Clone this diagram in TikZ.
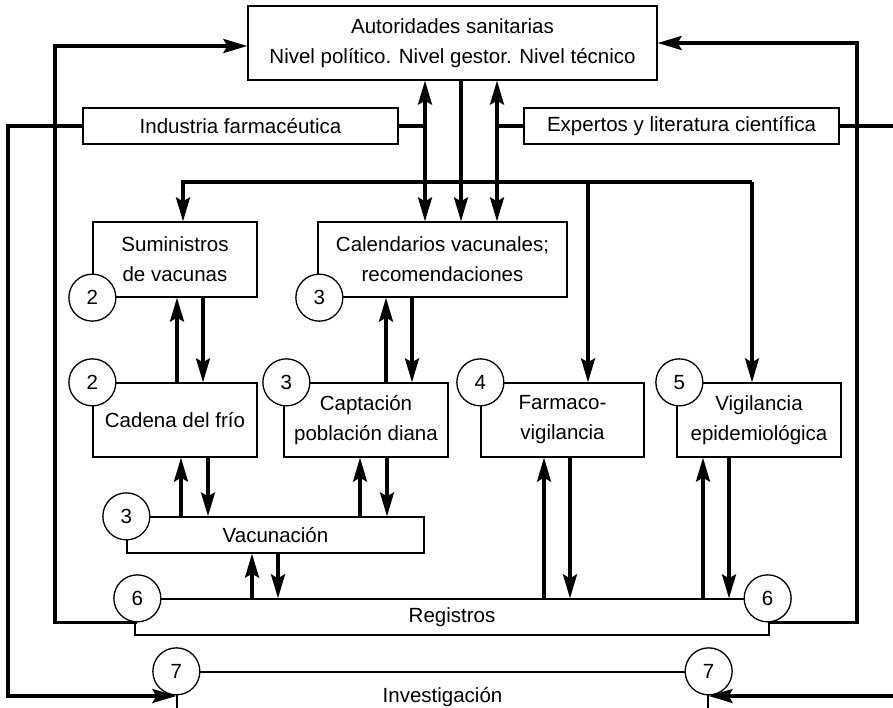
\documentclass[tikz,border=0pt]{standalone}
\usepackage{fontspec}
\setmainfont{Liberation Sans}
\usetikzlibrary{arrows.meta}
\begin{document}
\begin{tikzpicture}[x=1pt,y=-1pt,
  font=\fontsize{20.5}{30}\selectfont,
  box/.style={draw, line width=1.3pt, rectangle, inner sep=0pt, align=center},
  num/.style={draw, circle, fill=white, line width=1.3pt, minimum size=47pt, inner sep=0pt},
  arr/.style={line width=3.2pt, -{Stealth[length=24pt,width=14pt,inset=4pt]}},
  darr/.style={line width=3.2pt, {Stealth[length=24pt,width=14pt,inset=4pt]}-{Stealth[length=24pt,width=14pt,inset=4pt]}},
  ln/.style={line width=3.2pt}]
\useasboundingbox (0,0) rectangle (893,707);
\clip (0,0) rectangle (893,707);

% boxes
\node[box, minimum width=409pt, minimum height=74pt] (aut) at (452.5,43) {Autoridades sanitarias\\Nivel político. Nivel gestor. Nivel técnico};
\node[box, minimum width=315pt, minimum height=36pt] (ind) at (240.5,126) {Industria farmacéutica};
\node[box, minimum width=315pt, minimum height=36pt] (exp) at (681.5,126) {Expertos y literatura científica};
\node[box, minimum width=164pt, minimum height=75pt] (sum) at (175,259.5) {Suministros\\de vacunas};
\node[box, minimum width=249pt, minimum height=75pt] (cal) at (442.5,259.5) {Calendarios vacunales;\\recomendaciones};
\node[box, minimum width=164pt, minimum height=74pt] (cad) at (175,420) {Cadena del frío};
\node[box, minimum width=164pt, minimum height=74pt] (cap) at (366,420) {Captación\\población diana};
\node[box, minimum width=163pt, minimum height=74pt] (far) at (562.5,420) {Farmaco-\\vigilancia};
\node[box, minimum width=164pt, minimum height=74pt] (vig) at (759,420) {Vigilancia\\epidemiológica};
\node[box, minimum width=297pt, minimum height=36pt] (vac) at (275.5,535) {Vacunación};
\node[box, minimum width=634pt, minimum height=36pt] (reg) at (452,617) {Registros};
\node[box, minimum width=531pt, minimum height=50pt] (inv) at (442.5,697) {Investigación};

% numbered circles
\node[num] (c2a) at (sum.south west) {2};
\node[num] (c3a) at ([xshift=2pt]cal.south west) {3};
\node[num] (c2b) at (cad.north west) {2};
\node[num] (c3b) at ([xshift=3pt]cap.north west) {3};
\node[num] (c4) at (far.north west) {4};
\node[num] (c5) at ([xshift=3pt]vig.north west) {5};
\node[num] (c3c) at (vac.north west) {3};
\node[num] (c6a) at ([xshift=3pt]reg.north west) {6};
\node[num] (c6b) at ([xshift=-2pt]reg.north east) {6};
\node[num] (c7a) at (inv.north west) {7};
\node[num] (c7b) at (inv.north east) {7};

% outer loops
\coordinate (tl) at (55,46);
\coordinate (tr) at (857,43);
\draw[arr] (c6a.south) -| (tl) -- (tl -| aut.west);
\draw[arr] (c6b.south) -| (tr) -- (tr -| aut.east);
\coordinate (bl) at (8,696);
\draw[arr] (ind.west) -| (bl) -- (bl -| c7a.south);
\coordinate (er) at (893,126);
\coordinate (br) at (893,696);
\draw[ln] (exp.east) -- (er);
\draw[arr] (br) -- (br -| c7b.south);

% links to authorities
\coordinate (xa) at (425,126);
\coordinate (xb) at (461,182);
\coordinate (xc) at (497,126);
\draw[darr] (xa |- cal.north) -- (xa |- aut.south);
\draw[ln] (ind.east) -- (xa);
\draw[arr] (xb |- aut.south) -- (xb |- cal.north);
\draw[darr] (xc |- cal.north) -- (xc |- aut.south);
\draw[ln] (exp.west) -- (xc);

% distribution line
\coordinate (dl) at (183,182);
\coordinate (dm) at (588,182);
\coordinate (dr) at (752,182);
\draw[arr] (dm -| dr) -- (dl) -- (dl |- sum.north);
\draw[arr] (dm) -- (dm |- far.north);
\draw[arr] (dr) -- (dr |- vig.north);

% vertical pairs
\coordinate (p1) at (177,0);  \draw[arr] (p1 |- cad.north) -- (p1 |- sum.south);
\coordinate (p2) at (203,0);  \draw[arr] (p2 |- sum.south) -- (p2 |- cad.north);
\coordinate (p3) at (386,0);  \draw[arr] (p3 |- cap.north) -- (p3 |- cal.south);
\coordinate (p4) at (412,0);  \draw[arr] (p4 |- cal.south) -- (p4 |- cap.north);
\coordinate (p5) at (181,0);  \draw[arr] (p5 |- vac.north) -- (p5 |- cad.south);
\coordinate (p6) at (208,0);  \draw[arr] (p6 |- cad.south) -- (p6 |- vac.north);
\coordinate (p7) at (360,0);  \draw[arr] (p7 |- vac.north) -- (p7 |- cap.south);
\coordinate (p8) at (387,0);  \draw[arr] (p8 |- cap.south) -- (p8 |- vac.north);
\coordinate (p9) at (252,0);  \draw[arr] (p9 |- reg.north) -- (p9 |- vac.south);
\coordinate (p10) at (278,0); \draw[arr] (p10 |- vac.south) -- (p10 |- reg.north);
\coordinate (p11) at (544,0); \draw[arr] (p11 |- reg.north) -- (p11 |- far.south);
\coordinate (p12) at (570,0); \draw[arr] (p12 |- far.south) -- (p12 |- reg.north);
\coordinate (p13) at (703,0); \draw[arr] (p13 |- reg.north) -- (p13 |- vig.south);
\coordinate (p14) at (729,0); \draw[arr] (p14 |- vig.south) -- (p14 |- reg.north);
\end{tikzpicture}
\end{document}
